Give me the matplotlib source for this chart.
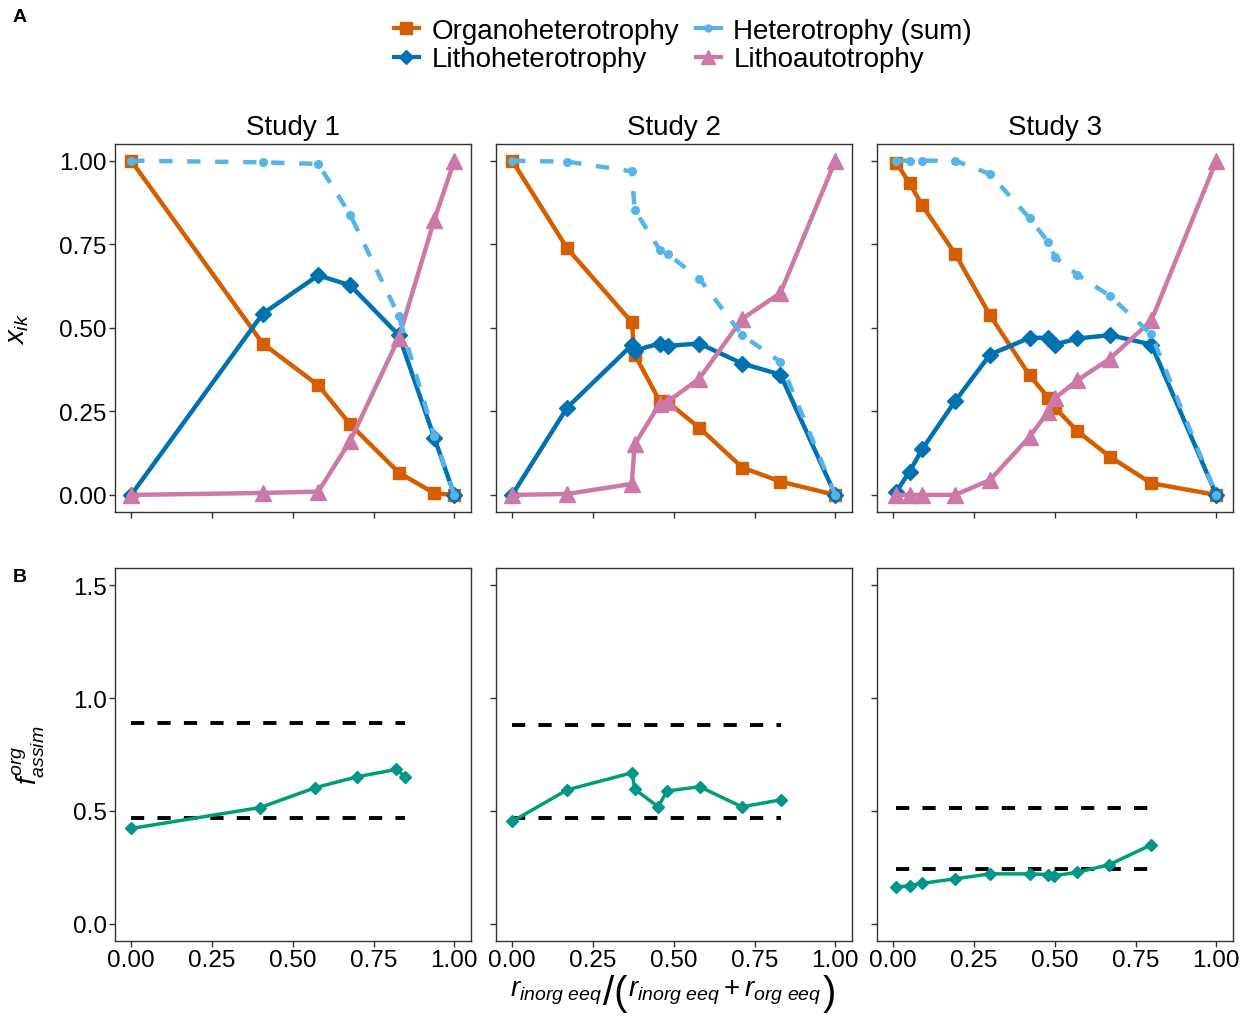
import numpy as np
import matplotlib
matplotlib.use('Agg')
import matplotlib.pyplot as plt
from matplotlib.lines import Line2D

plt.rcParams['font.family'] = ['Liberation Sans', 'DejaVu Sans']
plt.rcParams['mathtext.fontset'] = 'custom'
plt.rcParams['mathtext.it'] = 'Liberation Sans:italic'
plt.rcParams['mathtext.rm'] = 'Liberation Sans'

# ---- data ----
studies = ['Study 1', 'Study 2', 'Study 3']

# panel A: fraction of each metabolism
x_a1 = [0.0, 0.407, 0.579, 0.678, 0.828, 0.938, 1.0]
organo_1 = [1.0, 0.453, 0.328, 0.211, 0.067, 0.005, 0.0]
lithohet_1 = [0.0, 0.542, 0.657, 0.627, 0.478, 0.171, 0.0]
lithoaut_1 = [0.0, 0.006, 0.010, 0.162, 0.470, 0.823, 1.0]
hetsum_1 = [1.0, 0.995, 0.990, 0.838, 0.535, 0.176, 0.0]

x_a2 = [0.0, 0.170, 0.370, 0.379, 0.456, 0.481, 0.579, 0.712, 0.830, 1.0]
organo_2 = [1.0, 0.738, 0.517, 0.420, 0.282, 0.278, 0.201, 0.082, 0.040, 0.0]
lithohet_2 = [0.0, 0.261, 0.448, 0.432, 0.453, 0.446, 0.453, 0.393, 0.360, 0.0]
lithoaut_2 = [0.0, 0.003, 0.033, 0.151, 0.272, 0.279, 0.348, 0.527, 0.604, 1.0]
hetsum_2 = [1.0, 0.997, 0.968, 0.853, 0.734, 0.721, 0.647, 0.478, 0.398, 0.0]

x_a3 = [0.010, 0.051, 0.090, 0.192, 0.300, 0.422, 0.480, 0.501, 0.570, 0.671, 0.799, 1.0]
organo_3 = [0.993, 0.932, 0.866, 0.721, 0.537, 0.358, 0.291, 0.261, 0.191, 0.114, 0.035, 0.0]
lithohet_3 = [0.010, 0.070, 0.137, 0.281, 0.420, 0.470, 0.470, 0.450, 0.468, 0.478, 0.450, 0.0]
lithoaut_3 = [0.0, 0.0, 0.0, 0.0, 0.045, 0.174, 0.249, 0.290, 0.343, 0.408, 0.522, 1.0]
hetsum_3 = [1.0, 1.0, 1.0, 1.0, 0.960, 0.828, 0.756, 0.711, 0.659, 0.595, 0.480, 0.0]

# panel B: f_assim^org
x_b1 = [0.0, 0.400, 0.570, 0.699, 0.821, 0.848]
f_b1 = [0.422, 0.515, 0.603, 0.651, 0.684, 0.650]
ref_b1 = [0.890, 0.468]

x_b2 = [0.0, 0.170, 0.371, 0.379, 0.452, 0.479, 0.580, 0.711, 0.832]
f_b2 = [0.453, 0.593, 0.669, 0.596, 0.518, 0.588, 0.607, 0.518, 0.549]
ref_b2 = [0.882, 0.468]

x_b3 = [0.010, 0.051, 0.090, 0.192, 0.300, 0.422, 0.480, 0.499, 0.570, 0.669, 0.799]
f_b3 = [0.162, 0.169, 0.179, 0.199, 0.221, 0.221, 0.218, 0.213, 0.228, 0.262, 0.350]
ref_b3 = [0.515, 0.243]

x_ticks = [0.0, 0.25, 0.5, 0.75, 1.0]
ya_ticks = [0.0, 0.25, 0.5, 0.75, 1.0]
yb_ticks = [0.0, 0.5, 1.0, 1.5]

top = [(x_a1, organo_1, lithohet_1, lithoaut_1, hetsum_1),
       (x_a2, organo_2, lithohet_2, lithoaut_2, hetsum_2),
       (x_a3, organo_3, lithohet_3, lithoaut_3, hetsum_3)]
bottom = [(x_b1, f_b1, ref_b1), (x_b2, f_b2, ref_b2), (x_b3, f_b3, ref_b3)]

c_org = '#D55E00'
c_lhet = '#0072B2'
c_hsum = '#56B4E9'
c_laut = '#CC79A7'
c_green = '#009E73'
axcol = '#333333'

W, H = 1253, 1020
fig = plt.figure(figsize=(W / 100, H / 100), dpi=100)

lefts = [115 / W, 496 / W, 877 / W]
w = 355.5 / W
top_b, top_h = 0.4974, 0.3605
bot_b, bot_h = 0.0768, 0.3651


def style_ax(ax):
    for s in ax.spines.values():
        s.set_color(axcol)
        s.set_linewidth(1.0)
    ax.tick_params(direction='out', length=4, width=1, color=axcol,
                   labelsize=17.5, labelcolor='black', pad=2)


for i in range(3):
    x, org, lhet, laut, hsum = top[i]
    ax = fig.add_axes([lefts[i], top_b, w, top_h])
    ax.plot(x, org, color=c_org, lw=3.2, marker='s', ms=8.5, zorder=3)
    ax.plot(x, lhet, color=c_lhet, lw=3.2, marker='D', ms=8, zorder=4)
    ax.plot(x, laut, color=c_laut, lw=3.2, marker='^', ms=11, zorder=5)
    ax.plot(x, hsum, color=c_hsum, lw=3.2, ls=(0, (3.0, 3.3)), marker='o',
            ms=5.5, zorder=6)
    ax.set_xlim(-0.05, 1.05)
    ax.set_ylim(-0.05, 1.05)
    ax.set_xticks(x_ticks)
    ax.set_xticklabels([])
    ax.set_yticks(ya_ticks)
    if i == 0:
        ax.set_yticklabels(['%.2f' % v for v in ya_ticks])
        ax.set_ylabel('$x_{ik}$', fontsize=20)
        ax.yaxis.set_label_coords(-0.235, 0.5)
    else:
        ax.set_yticklabels([])
    ax.set_title(studies[i], fontsize=20, pad=7)
    style_ax(ax)

    xb, fb, refs = bottom[i]
    bx = fig.add_axes([lefts[i], bot_b, w, bot_h])
    for r in refs:
        bx.hlines(r, min(xb), max(xb), colors='black', lw=2.8,
                  linestyles=(0, (3.4, 3.4)), zorder=2)
    bx.plot(xb, fb, color=c_green, lw=2.5, marker='D', ms=6.5,
            mfc='#00968A', mec='#00968A', zorder=3)
    bx.set_xlim(-0.05, 1.05)
    bx.set_ylim(-0.075, 1.575)
    bx.set_xticks(x_ticks)
    bx.set_xticklabels(['%.2f' % v for v in x_ticks])
    bx.set_yticks(yb_ticks)
    if i == 0:
        bx.set_yticklabels(['%.1f' % v for v in yb_ticks])
        bx.set_ylabel('$f^{org}_{assim}$', fontsize=20)
        bx.yaxis.set_label_coords(-0.19, 0.5)
    else:
        bx.set_yticklabels([])
    style_ax(bx)

# x label built from pieces so the slash and parentheses can be tall
renderer = fig.canvas.get_renderer()
pieces = [(r'$r_{inorg\ eeq}$', 20, 0),
          ('/(', 29, 8),
          (r'$r_{inorg\ eeq}+r_{org\ eeq}$', 20, 0),
          (')', 29, 8)]
base_px = 997
texts = []
for s, fs, dy in pieces:
    t = fig.text(0, 1 - (base_px + dy) / H, s, fontsize=fs, va='baseline',
                 ha='left')
    texts.append(t)
widths = [t.get_window_extent(renderer=renderer).width for t in texts]
gap = 1.0
total = sum(widths) + gap * (len(widths) - 1)
xpos = 673 - total / 2
for t, wd in zip(texts, widths):
    t.set_x(xpos / W)
    xpos += wd + gap

fig.text(13 / W, 1 - 18 / H, 'A', fontsize=14, fontweight='bold',
         va='center')
fig.text(13 / W, 1 - 578 / H, 'B', fontsize=14, fontweight='bold',
         va='center')

handles = [
    Line2D([], [], color=c_org, lw=3, marker='s', ms=8),
    Line2D([], [], color=c_lhet, lw=3, marker='D', ms=7),
    Line2D([], [], color=c_hsum, lw=3, marker='o', ms=5),
    Line2D([], [], color=c_laut, lw=3, marker='^', ms=10),
]
labels = ['Organoheterotrophy', 'Lithoheterotrophy',
          'Heterotrophy (sum)', 'Lithoautotrophy']
fig.legend(handles, labels, ncol=2, loc='center',
           bbox_to_anchor=(683 / W, 1 - 46 / H), frameon=False,
           fontsize=20, handlelength=0.9, handletextpad=0.45,
           columnspacing=0.6, labelspacing=0.1, borderpad=0)

plt.savefig('out.png', dpi=100)
plt.close()
